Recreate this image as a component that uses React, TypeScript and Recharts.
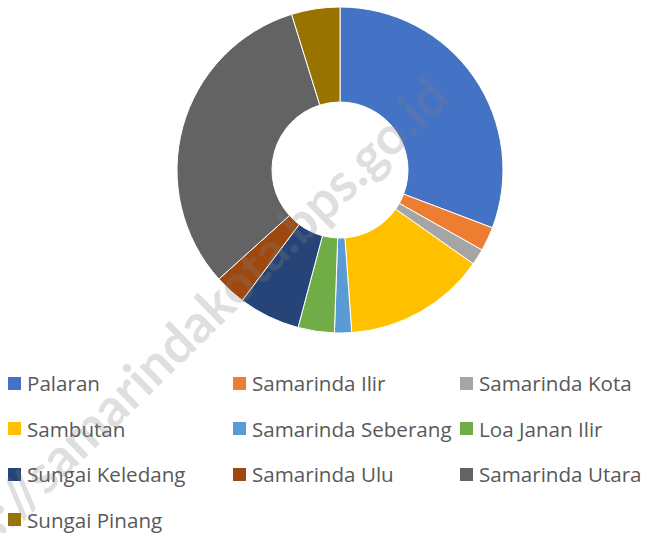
import { PieChart, Pie, Cell } from 'recharts'

const kecamatan = [
  'Palaran', 'Samarinda Ilir', 'Samarinda Kota', 'Sambutan', 'Samarinda Seberang',
  'Loa Janan Ilir', 'Sungai Keledang', 'Samarinda Ulu', 'Samarinda Utara', 'Sungai Pinang',
]
const persen = [30.8, 2.4, 1.6, 14.1, 1.7, 3.6, 6.1, 3.1, 31.9, 4.8]
const warna = [
  '#4472C4', '#ED7D31', '#A5A5A5', '#FFC000', '#5B9BD5',
  '#70AD47', '#264478', '#9E480E', '#636363', '#997300',
]

const data = kecamatan.map((name, i) => ({ name, value: persen[i] }))

const font = '"Open Sans", Lato, sans-serif'

// legenda 3 kolom di bawah donat
function LegendGrid() {
  return (
    <div style={{ position: 'absolute', left: 0, top: 371, width: 646, height: 170 }}>
      {kecamatan.map((name, i) => {
        const col = i % 3
        const row = Math.floor(i / 3)
        const left = [8, 233, 460][col]
        return (
          <div key={name} style={{
            position: 'absolute', left, top: row * 45.5, height: 24,
            display: 'flex', alignItems: 'center', whiteSpace: 'nowrap',
          }}>
            <span style={{ width: 13, height: 13, background: warna[i], display: 'inline-block', marginRight: 6 }} />
            <span style={{ fontFamily: font, fontSize: 20.6, color: '#595959' }}>{name}</span>
          </div>
        )
      })}
    </div>
  )
}

export default function App() {
  return (
    <div style={{ position: 'absolute', left: 0, top: 0, width: 646, height: 533, background: '#fff', overflow: 'hidden' }}>
      <PieChart width={646} height={360} margin={{ top: 0, right: 0, bottom: 0, left: 0 }}>
        <Pie
          data={data}
          dataKey="value"
          nameKey="name"
          cx={340}
          cy={170}
          innerRadius={68}
          outerRadius={163}
          startAngle={90}
          endAngle={-270}
          stroke="#fff"
          strokeWidth={1}
          isAnimationActive={false}
        >
          {data.map((d, i) => <Cell key={d.name} fill={warna[i]} />)}
        </Pie>
      </PieChart>
      <LegendGrid />
      <svg width={646} height={533} style={{ position: 'absolute', left: 0, top: 0, pointerEvents: 'none' }}>
        <text
          x={452}
          y={100}
          textAnchor="end"
          transform="rotate(-44.3 452 100)"
          fontFamily="Lato, sans-serif"
          fontWeight="bold"
          fontSize={53}
          fill="#808080"
          fillOpacity={0.25}
        >
          https://samarindakota.bps.go.id
        </text>
      </svg>
    </div>
  )
}
